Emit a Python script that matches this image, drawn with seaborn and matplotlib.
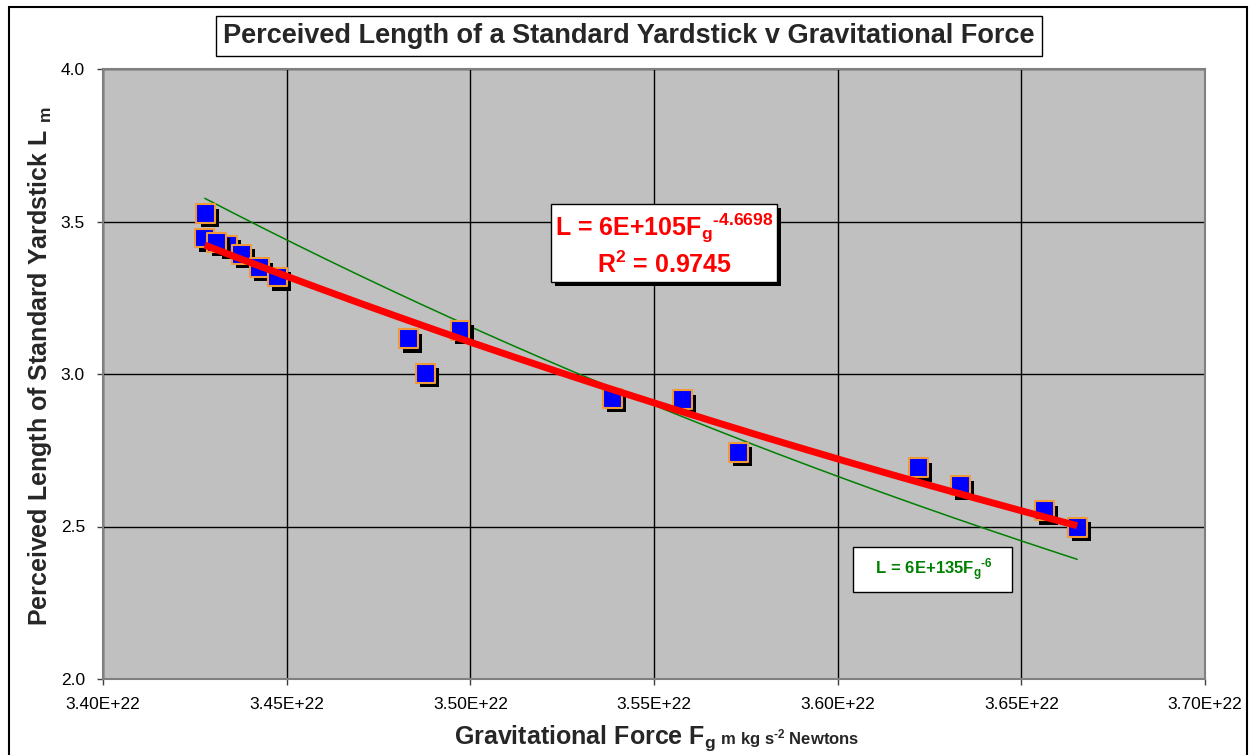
import numpy as np
import pandas as pd
import matplotlib
matplotlib.use("Agg")
import matplotlib.pyplot as plt
import matplotlib.patheffects as pe
from matplotlib.patches import Rectangle
from matplotlib.ticker import FuncFormatter, MultipleLocator
import seaborn as sns

#%% Data

force = [3.4280e22, 3.4277e22, 3.4338e22, 3.4310e22, 3.4376e22, 3.4425e22, 3.4474e22,
         3.4831e22, 3.4877e22, 3.4972e22, 3.5386e22, 3.5577e22, 3.5729e22,
         3.6219e22, 3.6334e22, 3.6562e22, 3.6652e22]
length = [3.525, 3.446, 3.422, 3.430, 3.393, 3.348, 3.318,
          3.115, 3.003, 3.144, 2.921, 2.915, 2.744,
          2.692, 2.633, 2.551, 2.498]

# second (theoretical) curve L = c * F^-6
green_coef = 5.80e135
green_exp = -6

df = pd.DataFrame({"force": force, "length": length})

#%% Power trendline fitted to the points (as the spreadsheet does)

slope, icpt = np.polyfit(np.log(df["force"]), np.log(df["length"]), 1)
fx = np.linspace(df["force"].min(), df["force"].max(), 200)
fit_y = np.exp(icpt) * fx ** slope
green_y = green_coef * fx ** green_exp

#%% Style

sns.set_theme(style="white")
plt.rcParams["font.family"] = ["Liberation Sans", "DejaVu Sans"]
plt.rcParams["mathtext.fontset"] = "custom"
plt.rcParams["mathtext.rm"] = "Liberation Sans:bold"
plt.rcParams["mathtext.it"] = "Liberation Sans:bold"
plt.rcParams["mathtext.bf"] = "Liberation Sans:bold"
plt.rcParams["mathtext.sf"] = "Liberation Sans:bold"

W, H = 1249, 755
fig = plt.figure(figsize=(W / 100, H / 100), dpi=100)
ax = fig.add_axes([103 / W, 1 - 679 / H, (1205 - 103) / W, (679 - 69) / H])
ax.set_facecolor("#C0C0C0")

#%% Plot

ax.plot(fx, green_y, color="#008000", lw=1.1, zorder=2)
sns.scatterplot(data=df, x="force", y="length", ax=ax, marker="s", s=185,
                color="#0000FF", edgecolor="#F09A3A", linewidth=1.5, zorder=3,
                path_effects=[pe.withSimplePatchShadow(offset=(3, -3), shadow_rgbFace="black", alpha=1)])
ax.plot(fx, fit_y, color="#FF0000", lw=5, solid_capstyle="butt", zorder=4)

ax.set_xlim(3.40e22, 3.70e22)
ax.set_ylim(2.0, 4.0)
ax.xaxis.set_major_locator(MultipleLocator(0.05e22))
ax.yaxis.set_major_locator(MultipleLocator(0.5))
ax.xaxis.set_major_formatter(FuncFormatter(lambda v, p: "{:.2E}".format(v)))
ax.yaxis.set_major_formatter(FuncFormatter(lambda v, p: "{:.1f}".format(v)))
ax.grid(True, color="black", lw=1, zorder=1)
ax.set_axisbelow(True)
for s in ax.spines.values():
    s.set_color("#808080")
    s.set_linewidth(1.5)
ax.tick_params(axis="both", which="major", direction="out", length=4, width=1,
               color="#404040", labelsize=12.5, labelcolor="black", pad=9,
               bottom=True, left=True)
ax.set_xlabel("")
ax.set_ylabel("")

#%% Text boxes

red_box = ax.text(3.5528e22, 3.423, "L = 6E+105F$_{g}{}^{\u20104.6698}$\nR$^{2}$ = 0.9745",
                  color="#FF0000", fontsize=18, fontweight="bold", ha="center", va="center",
                  linespacing=1.35, zorder=6,
                  bbox=dict(boxstyle="square,pad=0.15", fc="white", ec="black", lw=1))
red_box.get_bbox_patch().set_path_effects(
    [pe.withSimplePatchShadow(offset=(3, -3), shadow_rgbFace="black", alpha=1)])

ax.text(3.6258e22, 2.359, "   L = 6E+135F$_{g}{}^{\u20106}$   ", color="#008000", fontsize=12,
        fontweight="bold", ha="center", va="center", zorder=6,
        bbox=dict(boxstyle="square,pad=0.55", fc="white", ec="black", lw=1))

fig.text(629 / W, 1 - 36 / H, "Perceived Length of a Standard Yardstick v Gravitational Force",
         fontsize=19.5, fontweight="bold", ha="center", va="center",
         bbox=dict(boxstyle="square,pad=0.25", fc="white", ec="black", lw=1))

fig.text(40 / W, 1 - 366 / H, "Perceived Length of Standard Yardstick L $_{m}$",
         fontsize=18, fontweight="bold", rotation=90, ha="center", va="center")

# x label: big part + small units on the same baseline
renderer = fig.canvas.get_renderer()
base_y = 1 - 744 / H
t1 = fig.text(0, base_y, "Gravitational Force F$_{g}$", fontsize=18, fontweight="bold",
              ha="left", va="baseline")
t2 = fig.text(0, base_y, " m kg s$^{\u20102}$ Newtons", fontsize=12, fontweight="bold",
              ha="left", va="baseline")
w1 = t1.get_window_extent(renderer).width
w2 = t2.get_window_extent(renderer).width
x0 = 657 - (w1 + w2) / 2
t1.set_x(x0 / W)
t2.set_x((x0 + w1) / W)

# outer chart border
fig.patches.append(Rectangle((9 / W, -0.01), (1247 - 9) / W, (H - 7) / H + 0.01,
                             transform=fig.transFigure, fill=False, ec="black", lw=1.5))

fig.savefig("out.png", dpi=100)
